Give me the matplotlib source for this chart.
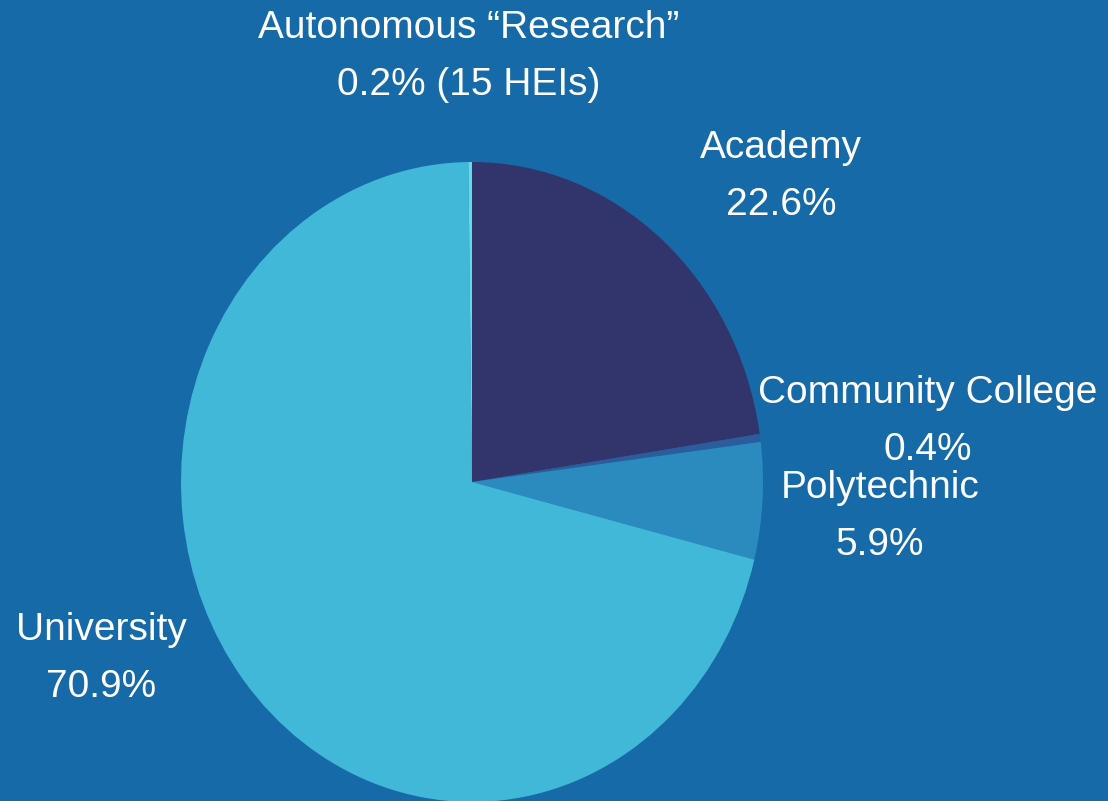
import matplotlib
matplotlib.use("Agg")
from matplotlib import pyplot as plt

# Share of higher education institutions by type.
categories = ["Academy", "Community College", "Polytechnic", "University",
	"Autonomous \u201cResearch\u201d"]
shares = [22.6, 0.4, 5.9, 70.9, 0.2]
notes = ["", "", "", "", " (15 HEIs)"]

bg = "#166aa7"
colors = ["#31356b", "#2b5d9d", "#2b8bbf", "#41b8d7", "#62dbe6"]

# label anchors in pixels (center x, baseline y of first line)
label_pos = [(781, 158), (928, 403), (880, 498), (101, 640), (469, 38)]
line_gap = 57

W, H = 1108, 801
fig = plt.figure(figsize=(W / 100, H / 100), dpi=100, facecolor=bg)

# pie centre (472, 482) px, radii 291 x 320 px
cx, cy, rx, ry = 472, 482, 291, 320
ax = fig.add_axes([(cx - rx) / W, (H - cy - ry) / H, 2 * rx / W, 2 * ry / H])
ax.pie(shares, colors=colors, startangle=90, counterclock=False,
	wedgeprops=dict(linewidth=0))
ax.set_aspect("auto")
ax.set_xlim(-1, 1)
ax.set_ylim(-1, 1)
ax.axis("off")

for name, v, note, (x, y) in zip(categories, shares, notes, label_pos):
	fig.text(x / W, 1 - y / H, name, ha="center", va="baseline",
		color="white", fontsize=28, family="Liberation Sans")
	fig.text(x / W, 1 - (y + line_gap) / H, "%.1f%%%s" % (v, note),
		ha="center", va="baseline", color="white", fontsize=28,
		family="Liberation Sans")

fig.savefig("out.png", dpi=100, facecolor=bg)
